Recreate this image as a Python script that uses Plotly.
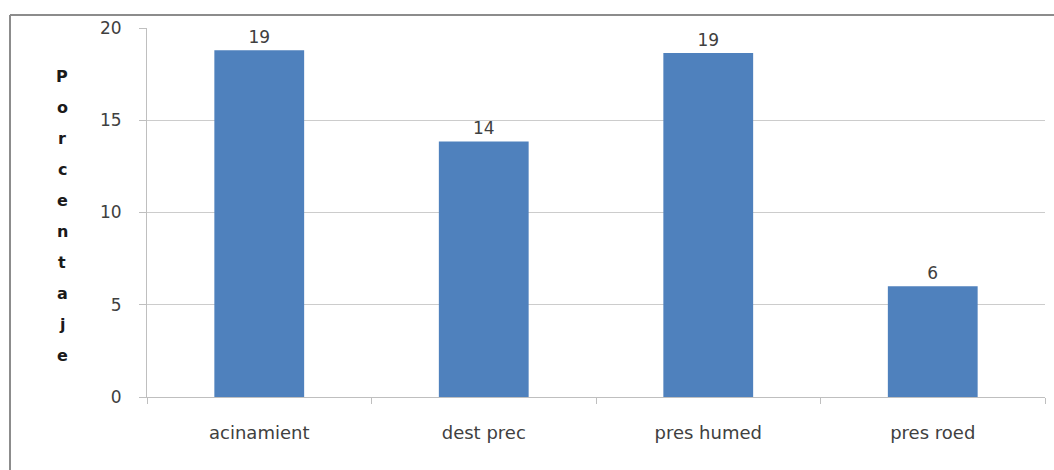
import plotly.graph_objects as go

# Data
categories = ["acinamient", "dest prec", "pres humed", "pres roed"]
porcentaje = [18.8, 13.85, 18.65, 6.0]
y_ticks = [0, 5, 10, 15, 20]
axis_title = "Porcentaje"

W, H = 1054, 470
L, R, T, B = 147, 9, 28, 73
PW, PH = W - L - R, H - T - B


def px_x(px):
    return (px - L) / PW


def px_y(py):
    return (H - B - py) / PH


fig = go.Figure(
    go.Bar(
        x=categories,
        y=porcentaje,
        width=0.4,
        marker=dict(color="#4F81BD", line=dict(width=0)),
        text=[f"{v:.0f}" for v in porcentaje],
        textposition="outside",
        textfont=dict(family="DejaVu Sans", size=17, color="#404040"),
        cliponaxis=False,
    )
)

# Vertical, letter-by-letter axis title
n = len(axis_title)
top_c, bot_c = 76, 355
for i, ch in enumerate(axis_title):
    cy = top_c + (bot_c - top_c) * i / (n - 1)
    fig.add_annotation(
        text=f"<b>{ch}</b>", x=px_x(62), y=px_y(cy), xref="paper", yref="paper",
        showarrow=False, xanchor="center", yanchor="middle",
        font=dict(family="DejaVu Sans", size=16, color="#1a1a1a"),
    )

# Outer chart frame (left and top edges)
fig.add_shape(type="line", xref="paper", yref="paper",
              x0=px_x(10), x1=px_x(10), y0=px_y(15), y1=px_y(480),
              line=dict(color="#8c8c8c", width=2))
fig.add_shape(type="line", xref="paper", yref="paper",
              x0=px_x(10), x1=px_x(1060), y0=px_y(15), y1=px_y(15),
              line=dict(color="#8c8c8c", width=2))

fig.update_layout(
    width=W, height=H,
    margin=dict(l=L, r=R, t=T, b=B),
    paper_bgcolor="white", plot_bgcolor="white",
    showlegend=False,
    font=dict(family="DejaVu Sans", size=17, color="#404040"),
    bargap=0.6,
    xaxis=dict(
        type="category",
        showline=True, linecolor="#bfbfbf", linewidth=1,
        ticks="outside", tickson="boundaries", ticklen=6, tickcolor="#bfbfbf",
        showgrid=False,
        tickfont=dict(family="DejaVu Sans", size=18, color="#404040"),
        ticklabelstandoff=19,
    ),
    yaxis=dict(
        range=[0, 20], tickvals=y_ticks,
        showline=True, linecolor="#bfbfbf", linewidth=1,
        ticks="outside", ticklen=7, tickcolor="#bfbfbf",
        showgrid=True, gridcolor="#cccccc", gridwidth=1,
        zeroline=False,
        tickfont=dict(family="DejaVu Sans", size=17, color="#404040"),
        ticklabelstandoff=14,
    ),
)

fig.write_html("out.html")
